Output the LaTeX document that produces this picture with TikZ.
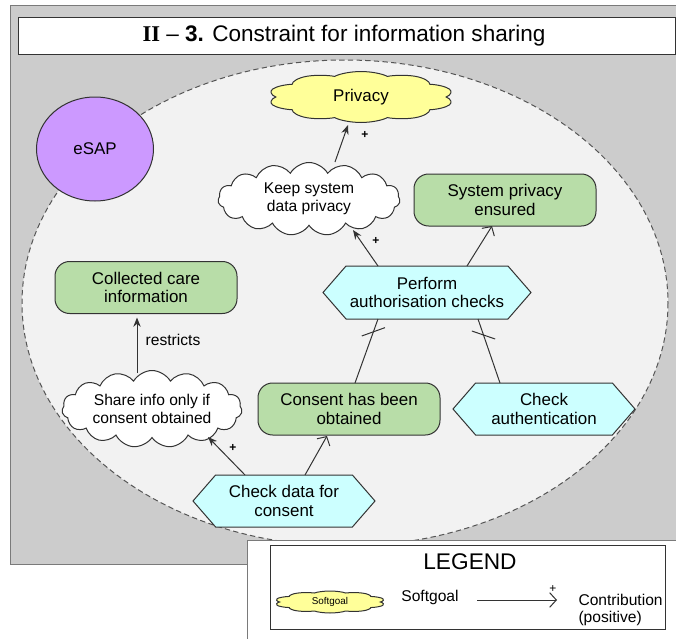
\documentclass[tikz,border=0pt]{standalone}
\usepackage{fontspec}
\setmainfont{Liberation Sans}
\newfontfamily\romanbold{Liberation Serif}
\usetikzlibrary{shapes.symbols,shapes.geometric,arrows.meta,calc}

\definecolor{bggray}{HTML}{CCCCCC}
\definecolor{innergray}{HTML}{F2F2F2}
\definecolor{framegray}{HTML}{7A7A7A}
\definecolor{dashgray}{HTML}{555555}
\definecolor{linegray}{HTML}{333333}
\definecolor{goalgreen}{HTML}{B8DDA8}
\definecolor{taskcyan}{HTML}{CCFFFF}
\definecolor{softyellow}{HTML}{FFFF99}
\definecolor{actorpurple}{HTML}{CC99FF}

\tikzset{every picture/.style={line width=0.75pt}}
\tikzset{
  nodefont/.style={font=\fontsize{12.7}{13.6}\selectfont},
  cloudfont/.style={font=\fontsize{11.7}{13.3}\selectfont},
  softgoal/.style={cloud, cloud puffs=10, cloud puff arc=120, cloud ignores aspect,
    shape border rotate=18, transform shape,
    draw=linegray, fill=softyellow, inner sep=0pt},
  softwhite/.style={cloud, cloud puffs=15, cloud puff arc=120, cloud ignores aspect,
    draw=linegray, fill=white, inner sep=0pt, align=center, cloudfont,
    minimum width=136.5pt},
  goalbox/.style={rectangle, rounded corners=11pt, draw=linegray, fill=goalgreen,
    minimum width=136.5pt, minimum height=39pt, align=center, inner sep=0pt, nodefont},
  taskhex/.style={signal, signal to=east and west, signal pointer angle=98,
    draw=linegray, fill=taskcyan, minimum width=136.5pt, minimum height=39pt,
    align=center, inner sep=0pt, nodefont},
  actor/.style={ellipse, draw=linegray, fill=actorpurple, minimum width=87.75pt,
    minimum height=78pt, inner sep=0pt, nodefont},
  contrib/.style={draw=linegray, -{Stealth[length=7pt,width=5.5pt]}},
  meansend/.style={draw=linegray, -{Straight Barb[length=5pt,width=11pt]}},
  decomp/.style={draw=linegray},
  tickmark/.style={sloped, draw=linegray, inner sep=0pt, minimum width=0pt,
    minimum height=18.5pt},
  plus/.style={inner sep=0pt, font=\fontsize{9}{10}\selectfont\bfseries}
}

\begin{document}
\begin{tikzpicture}[x=0.75pt,y=0.75pt,yscale=-1,xscale=1]
\useasboundingbox (0,0) rectangle (676,639);

% background and boundary
\draw  [draw=framegray, fill=bggray]  (10,5) -- (690,5) -- (690,564) -- (10,564) -- cycle ;
\draw  [draw=dashgray, fill=innergray, dash pattern=on 4pt off 2.5pt]  (345,303) ellipse (323 and 243) ;

% title
\draw  [draw=linegray, fill=white]  (18,17) -- (675,17) -- (675,54) -- (18,54) -- cycle ;
\draw (344,36) node [font=\fontsize{16.9}{18}\selectfont] (title)
  {{\romanbold\bfseries II} -- \textbf{3.} Constraint for information sharing};

% actor
\draw (95,149) node [actor] (esap) {eSAP};

% elements
\draw (361,97) node [softgoal, xscale=3.1, minimum width=45pt, minimum height=38.25pt] (privacy) {};
\draw (privacy.center) node [nodefont] (privacytext) {Privacy};
\draw (309,199) node [softwhite, minimum height=54.75pt] (keep) {Keep system\\data privacy};
\draw (152,409) node [softwhite, minimum width=135pt, minimum height=57.75pt] (share) {Share info only if\\consent obtained};
\draw (505,200) node [goalbox] (sysprivacy) {System privacy\\ensured};
\draw (146,287.5) node [goalbox] (collected) {Collected care\\information};
\draw (349,409) node [goalbox] (consent) {Consent has been\\obtained};
\draw (427,292.5) node [taskhex, minimum width=156pt, minimum height=39.75pt] (perform) {Perform\\authorisation checks};
\draw (544,409) node [taskhex] (checkauth) {Check\\authentication};
\draw (284,501) node [taskhex] (checkdata) {Check data for\\consent};

% links
\draw  [contrib]  ($(keep)+(26,-37)$) -- ($(privacy)+(-13,28)$) ;
\draw  [contrib]  ($(perform)+(-49,-26.5)$) -- ($(keep)+(44,31)$) ;
\draw  [meansend]  ($(perform)+(40,-26.5)$) -- ($(sysprivacy)+(-13,26)$) ;
\draw  [decomp]  ($(perform)+(-49,26.5)$) -- node [tickmark, pos=0.2] {} ($(consent)+(6,-26)$) ;
\draw  [decomp]  ($(perform)+(51,26.5)$) -- node [tickmark, pos=0.25] {} ($(checkauth)+(-44,-26)$) ;
\draw  [contrib]  ($(checkdata)+(-39,-26)$) -- ($(share)+(56,28)$) ;
\draw  [meansend]  ($(checkdata)+(21,-26)$) -- ($(consent)+(-22,27)$) ;
\draw  [contrib]  ($(share)+(-15,-36)$) -- ($(collected)+(-9,30)$) ;

\draw (365,135) node [plus] (plusa) {+};
\draw (376,241) node [plus] (plusb) {+};
\draw (233,448) node [plus] (plusc) {+};
\draw (173,340) node [cloudfont] (restricts) {restricts};

% legend
\fill  [white]  (247,540) -- (690,540) -- (690,650) -- (247,650) -- cycle ;
\draw  [draw=framegray]  (247,650) -- (247,540) -- (690,540) ;
\draw  [draw=linegray]  (270,545) -- (665,545) -- (665,629) -- (270,629) -- cycle ;
\draw (470,562) node [font=\fontsize{17}{18}\selectfont] (legendtitle) {LEGEND};
\draw (330,602) node [softgoal, xscale=4.5, minimum width=18.5pt, minimum height=16.5pt] (legsoft) {};
\draw (legsoft.center) node [font=\fontsize{7.4}{8}\selectfont] (legsofttag) {Softgoal};
\draw (430,597) node [cloudfont] (legsofttext) {Softgoal};
\coordinate (legfrom) at (477,600);
\coordinate (legto) at (557,600);
\draw  [meansend]  (legfrom) -- (legto) ;
\draw (553,589) node [inner sep=0pt, font=\fontsize{9}{10}\selectfont] (legplus) {+};
\draw (578,610) node [anchor=west, align=left, inner sep=0pt, cloudfont] (legcontrib) {Contribution\\(positive)};

\end{tikzpicture}
\end{document}
